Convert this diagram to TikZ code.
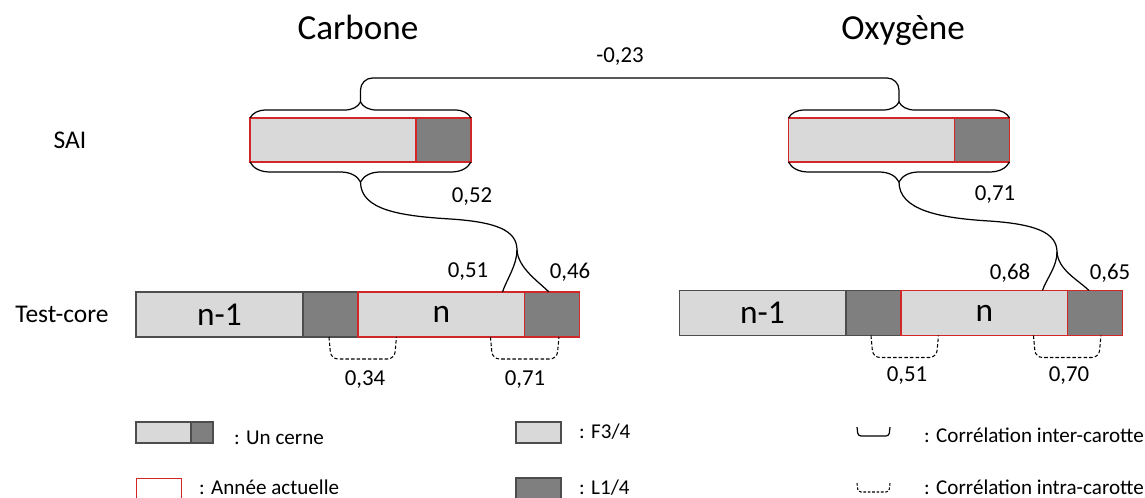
\documentclass[tikz,border=0pt]{standalone}
\usepackage{fontspec}
\setmainfont{Carlito}
\usetikzlibrary{positioning, calc, decorations.pathreplacing}
\definecolor{earlywood}{HTML}{D9D9D9}
\definecolor{latewood}{HTML}{7F7F7F}
\definecolor{edgegray}{HTML}{4D4D4D}
\definecolor{yearred}{HTML}{D02828}

\tikzset{
  ewbox/.style={draw=edgegray, fill=earlywood, line width=0.6pt, inner sep=0pt,
    outer sep=0pt, minimum width=3.34cm, minimum height=0.9cm,
    font=\fontsize{19}{22}\selectfont},
  lwbox/.style={ewbox, fill=latewood, minimum width=1.1cm},
  thisyear/.style={draw=yearred},
  curly/.style={decorate, decoration={brace, amplitude=#1}, line width=0.7pt},
  link/.style={line width=0.7pt},
  intra/.style={dash pattern=on 2pt off 1.2pt, line width=0.6pt, rounded corners=0.14cm},
  corr/.style={font=\fontsize{13}{15}\selectfont},
  rowlabel/.style={font=\fontsize{14.5}{17}\selectfont},
  titlelabel/.style={font=\fontsize{20}{24}\selectfont, anchor=base},
  keytext/.style={font=\fontsize{12}{14}\selectfont, anchor=base west},
}

\begin{document}
\begin{tikzpicture}[x=0.02cm, y=-0.02cm, node distance=0pt]
\useasboundingbox (0,0) rectangle (1145,497);

% titles and rows
\node[titlelabel] (titleC) at (358,39) {Carbone};
\node[titlelabel] (titleO) at (903,39) {Oxygène};
\node[rowlabel] (rowSAI) at (70,140) {SAI};
\node[rowlabel] (rowTC) at (62,314) {Test-core};

% SAI rings
\node[ewbox, thisyear, minimum width=3.32cm, minimum height=0.88cm] (saiC1) at (333,140) {};
\node[lwbox, thisyear, minimum height=0.88cm, right=of saiC1] (saiC2) {};
\node[ewbox, thisyear, minimum width=3.32cm, minimum height=0.88cm] (saiO1) at (871.5,140) {};
\node[lwbox, thisyear, minimum height=0.88cm, right=of saiO1] (saiO2) {};

% test-core rings
\node[ewbox] (prevC) at (219.5,314.5) {n-1};
\node[lwbox, right=of prevC] (lateC) {};
\node[ewbox, thisyear, right=of lateC] (curC) {n};
\node[lwbox, thisyear, right=of curC] (endC) {};

\node[ewbox] (prevO) at (762.5,313) {n-1};
\node[lwbox, right=of prevO] (lateO) {};
\node[ewbox, thisyear, right=of lateO] (curO) {n};
\node[lwbox, thisyear, right=of curO] (endO) {};

% braces round the SAI rings
\draw[curly=0.32cm] (saiC1.north west) -- (saiC2.north east);
\draw[curly=0.32cm] (saiO1.north west) -- (saiO2.north east);
\draw[curly=0.4cm] (saiC2.south east) -- (saiC1.south west);
\draw[curly=0.4cm] (saiO2.south east) -- (saiO1.south west);

\coordinate (tipCt) at ($(saiC1.north west)!0.5!(saiC2.north east)+(0,-16)$);
\coordinate (tipOt) at ($(saiO1.north west)!0.5!(saiO2.north east)+(0,-16)$);
\coordinate (tipCb) at ($(saiC1.south west)!0.5!(saiC2.south east)+(0,20)$);
\coordinate (tipOb) at ($(saiO1.south west)!0.5!(saiO2.south east)+(0,20)$);

% inter-carotte links
\draw[link, rounded corners=0.24cm] (tipCt) -- ++(0,-24) -| (tipOt);
\node[corr] (valCO) at (620,57) {-0,23};

\coordinate (forkC) at (517,250);
\coordinate (hitC1) at ($(curC.north)+(61,0)$);
\coordinate (hitC2) at ($(endC.north)+(-3.5,0)$);
\draw[link] (tipCb) .. controls +(0,28) and +(-50,-3) .. ++(90,37)
  .. controls +(45,3) and +(0,-20) .. (forkC);
\draw[link] (forkC) .. controls +(0,15) and +(4,-12) .. (hitC1);
\draw[link] (forkC) .. controls +(1,18) and +(-10,-10) .. (hitC2);

\coordinate (forkO) at (1057,252);
\coordinate (hitO1) at ($(curO.north)+(58,0)$);
\coordinate (hitO2) at ($(endO.north)+(-6.5,0)$);
\draw[link] (tipOb) .. controls +(0,28) and +(-50,-3) .. ++(90,39)
  .. controls +(45,3) and +(0,-20) .. (forkO);
\draw[link] (forkO) .. controls +(0,15) and +(4,-12) .. (hitO1);
\draw[link] (forkO) .. controls +(1,18) and +(-10,-10) .. (hitO2);

\node[corr] (valC) at (472,197) {0,52};
\node[corr] (valC1) at (468,272) {0,51};
\node[corr] (valC2) at (570,272) {0,46};
\node[corr] (valO) at (995,195) {0,71};
\node[corr] (valO1) at (1010,273) {0,68};
\node[corr] (valO2) at (1110,273) {0,65};

% intra-carotte links
\draw[intra] ($(lateC.south)+(-1.5,0)$) -- ++(2,22) -- ($(curC.south)+(-47,22)$) -- ($(curC.south)+(-45,0)$);
\draw[intra] ($(curC.south)+(49,0)$) -- ++(2,22) -- ($(endC.south)+(4.5,22)$) -- ($(endC.south)+(6.5,0)$);
\draw[intra] ($(lateO.south)+(-2.5,0)$) -- ++(2,22) -- ($(curO.south)+(-48,22)$) -- ($(curO.south)+(-46,0)$);
\draw[intra] ($(curO.south)+(49,0)$) -- ++(2,22) -- ($(endO.south)+(3.5,22)$) -- ($(endO.south)+(5.5,0)$);

\node[corr] (valC3) at (365,380) {0,34};
\node[corr] (valC4) at (525,380) {0,71};
\node[corr] (valO3) at (907,376) {0,51};
\node[corr] (valO4) at (1069,376) {0,70};

% legend
\node[ewbox, minimum width=1.1cm, minimum height=0.42cm] (keyE) at (163.5,432.5) {};
\node[lwbox, minimum width=0.44cm, minimum height=0.42cm, right=of keyE] (keyL) {};
\node[keytext] (keyRing) at (228,444) {: Un cerne};
\node[draw=yearred, line width=0.6pt, inner sep=0pt, minimum width=0.9cm,
  minimum height=0.44cm, anchor=north west] (keyY) at (136,478) {};
\node[keytext] (keyYear) at (193,494) {: Année actuelle};
\node[ewbox, minimum width=0.9cm, minimum height=0.42cm] (keyF) at (538.5,432.5) {};
\node[keytext] (keyFt) at (573,438) {: F3/4};
\node[lwbox, minimum width=0.9cm, minimum height=0.44cm, anchor=north] (keyLw) at (538.5,478) {};
\node[keytext] (keyLt) at (573,494) {: L1/4};
\coordinate (keyI1) at (857,427);
\coordinate (keyI2) at (890,427);
\draw[link, rounded corners=0.06cm] (keyI1) -- ++(1,9) -- ++(31,0) -- (keyI2);
\node[keytext] (keyInter) at (918,442) {: Corrélation inter-carotte};
\coordinate (keyD1) at (857,483);
\coordinate (keyD2) at (890,483);
\draw[intra, dash pattern=on 1.5pt off 1pt, rounded corners=0.06cm] (keyD1) -- ++(1,9) -- ++(31,0) -- (keyD2);
\node[keytext] (keyIntra) at (918,494) {: Corrélation intra-carotte};
\end{tikzpicture}
\end{document}
